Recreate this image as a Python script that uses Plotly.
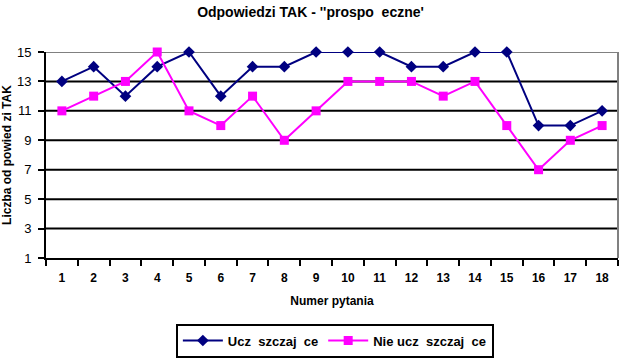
import plotly.graph_objects as go

questions = [str(i) for i in range(1, 19)]
uczeszczajace = [13, 14, 12, 14, 15, 12, 14, 14, 15, 15, 15, 14, 14, 15, 15, 10, 10, 11]
nie_uczeszczajace = [11, 12, 13, 15, 11, 10, 12, 9, 11, 13, 13, 13, 12, 13, 10, 7, 9, 10]
y_ticks = [1, 3, 5, 7, 9, 11, 13, 15]

FONT = "Liberation Sans, Arial, sans-serif"

fig = go.Figure()
fig.add_trace(go.Scatter(
    x=questions, y=uczeszczajace, mode="lines+markers",
    name="<b>Ucz\u00a0 szczaj\u00a0 ce</b>",
    line=dict(color="#000080", width=2),
    marker=dict(symbol="diamond", size=9, color="#000080"),
    cliponaxis=False,
))
fig.add_trace(go.Scatter(
    x=questions, y=nie_uczeszczajace, mode="lines+markers",
    name="<b>Nie ucz\u00a0 szczaj\u00a0 ce</b>",
    line=dict(color="#FF00FF", width=2),
    marker=dict(symbol="square", size=9, color="#FF00FF"),
    cliponaxis=False,
))

fig.update_layout(
    width=621, height=359,
    margin=dict(l=46, r=3, t=52, b=101, autoexpand=False),
    paper_bgcolor="white", plot_bgcolor="white",
    font=dict(family=FONT, color="black", size=12),
    title=dict(text="<b>Odpowiedzi TAK - ''prospo\u00a0 eczne'</b>",
               x=0.5, xanchor="center", y=0.98, yanchor="top",
               font=dict(size=14, family=FONT)),
    showlegend=True,
    legend=dict(orientation="h", x=0.505, xanchor="center",
                yref="container", y=0.004, yanchor="bottom",
                bordercolor="black", borderwidth=2, bgcolor="white",
                font=dict(size=13, family=FONT), itemwidth=40,
                traceorder="normal"),
)
fig.update_xaxes(
    type="category", tickson="boundaries", ticks="outside", ticklen=6, tickwidth=2,
    tickcolor="black", showline=True, linecolor="black", linewidth=2,
    showgrid=False, tickfont=dict(size=12, family=FONT), ticklabelstandoff=8,
    title=dict(text="<b>Numer pytania</b>", font=dict(size=12, family=FONT), standoff=12),
    tickprefix="<b>", ticksuffix="</b>",
    range=[-0.5, 17.5],
)
fig.update_yaxes(
    range=[1, 15], tickvals=y_ticks, ticks="outside", ticklen=6, tickwidth=2,
    tickcolor="black", showline=True, linecolor="black", linewidth=2,
    showgrid=False, zeroline=False,
    tickfont=dict(size=13, family=FONT), tickprefix="<b>", ticksuffix="</b>",
    ticklabelstandoff=4,
    title=dict(text="<b>Liczba od powied zi TAK</b>", font=dict(size=12, family=FONT), standoff=4),
)
# black gridlines at inner ticks, grey top line and right border
for v in y_ticks[1:-1]:
    fig.add_hline(y=v, line=dict(color="black", width=2), layer="below")
fig.add_hline(y=y_ticks[-1], line=dict(color="#808080", width=2), layer="below")
fig.add_shape(type="line", xref="paper", yref="paper", x0=1, x1=1, y0=0, y1=1,
              line=dict(color="#808080", width=2), layer="below")

fig.write_html("out.html")
